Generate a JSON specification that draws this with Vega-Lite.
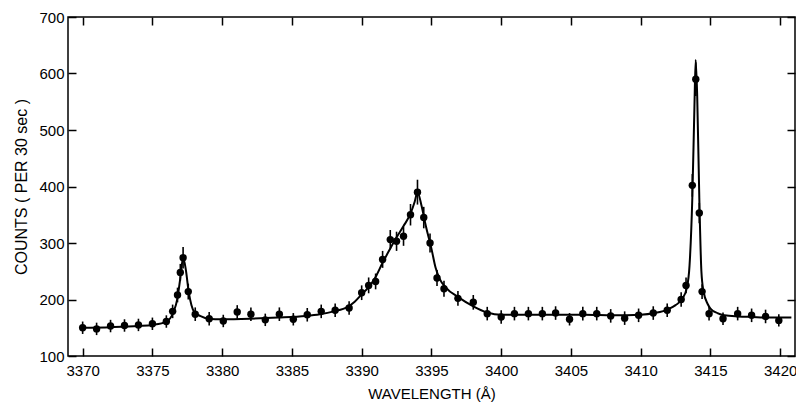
{
  "$schema": "https://vega.github.io/schema/vega-lite/v6.json",
  "width": 727,
  "height": 339,
  "autosize": {"type": "none"},
  "padding": {"left": 68, "top": 17, "right": 1, "bottom": 47},
  "background": "white",
  "config": {
    "view": {"stroke": "black", "strokeWidth": 1.5},
    "axis": {
      "domain": false,
      "grid": false,
      "tickColor": "black",
      "tickWidth": 1.5,
      "tickSize": -8,
      "labelColor": "black",
      "labelFont": "Liberation Sans",
      "labelFontSize": 15,
      "titleFont": "Liberation Sans",
      "titleFontSize": 15,
      "titleFontWeight": "normal",
      "titleColor": "black"
    }
  },
  "datasets": {
    "pts": [
      {"w": 3370, "c": 150, "e": 11},
      {"w": 3371, "c": 148, "e": 11},
      {"w": 3372, "c": 153, "e": 11},
      {"w": 3373, "c": 154, "e": 11},
      {"w": 3374, "c": 155, "e": 11},
      {"w": 3375, "c": 157, "e": 11},
      {"w": 3376, "c": 161, "e": 11},
      {"w": 3376.45, "c": 179, "e": 12},
      {"w": 3376.8, "c": 208, "e": 13},
      {"w": 3377.0, "c": 248, "e": 15},
      {"w": 3377.2, "c": 274, "e": 19},
      {"w": 3377.57, "c": 214, "e": 14},
      {"w": 3378.07, "c": 174, "e": 12},
      {"w": 3379.07, "c": 166, "e": 12},
      {"w": 3380.08, "c": 162, "e": 11},
      {"w": 3381.08, "c": 178, "e": 12},
      {"w": 3382.06, "c": 174, "e": 12},
      {"w": 3383.09, "c": 164, "e": 11},
      {"w": 3384.1, "c": 174, "e": 12},
      {"w": 3385.1, "c": 165, "e": 11},
      {"w": 3386.1, "c": 173, "e": 12},
      {"w": 3387.1, "c": 179, "e": 12},
      {"w": 3388.1, "c": 181, "e": 12},
      {"w": 3389.1, "c": 185, "e": 12},
      {"w": 3390.0, "c": 212, "e": 13},
      {"w": 3390.5, "c": 225, "e": 14},
      {"w": 3391.0, "c": 232, "e": 14},
      {"w": 3391.5, "c": 271, "e": 15},
      {"w": 3392.05, "c": 306, "e": 17},
      {"w": 3392.5, "c": 303, "e": 17},
      {"w": 3393.0, "c": 312, "e": 17},
      {"w": 3393.5, "c": 350, "e": 19},
      {"w": 3394.0, "c": 390, "e": 22},
      {"w": 3394.45, "c": 345, "e": 19},
      {"w": 3394.9, "c": 300, "e": 17},
      {"w": 3395.4, "c": 238, "e": 14},
      {"w": 3395.9, "c": 219, "e": 14},
      {"w": 3396.9, "c": 202, "e": 13},
      {"w": 3398.0, "c": 195, "e": 13},
      {"w": 3399.0, "c": 175, "e": 12},
      {"w": 3400.0, "c": 169, "e": 12},
      {"w": 3400.95, "c": 175, "e": 12},
      {"w": 3401.95, "c": 175, "e": 12},
      {"w": 3402.95, "c": 175, "e": 12},
      {"w": 3403.9, "c": 176, "e": 12},
      {"w": 3404.9, "c": 165, "e": 11},
      {"w": 3405.85, "c": 175, "e": 12},
      {"w": 3406.85, "c": 175, "e": 12},
      {"w": 3407.85, "c": 171, "e": 12},
      {"w": 3408.85, "c": 167, "e": 12},
      {"w": 3409.85, "c": 172, "e": 12},
      {"w": 3410.9, "c": 176, "e": 12},
      {"w": 3411.9, "c": 181, "e": 12},
      {"w": 3412.9, "c": 200, "e": 13},
      {"w": 3413.25, "c": 225, "e": 14},
      {"w": 3413.7, "c": 402, "e": 20},
      {"w": 3413.95, "c": 590, "e": 30},
      {"w": 3414.2, "c": 353, "e": 18},
      {"w": 3414.4, "c": 214, "e": 13},
      {"w": 3414.9, "c": 175, "e": 12},
      {"w": 3415.9, "c": 166, "e": 11},
      {"w": 3416.95, "c": 175, "e": 12},
      {"w": 3417.95, "c": 172, "e": 12},
      {"w": 3418.95, "c": 170, "e": 12},
      {"w": 3419.9, "c": 163, "e": 11}
    ],
    "fit": [
      {"w": 3369.9, "c": 150},
      {"w": 3372, "c": 151},
      {"w": 3374, "c": 153},
      {"w": 3375, "c": 155},
      {"w": 3376, "c": 161},
      {"w": 3376.5, "c": 177},
      {"w": 3376.8, "c": 203},
      {"w": 3377.0, "c": 238},
      {"w": 3377.2, "c": 274},
      {"w": 3377.4, "c": 252},
      {"w": 3377.6, "c": 214},
      {"w": 3377.8, "c": 190},
      {"w": 3378.0, "c": 178},
      {"w": 3378.5, "c": 170},
      {"w": 3379, "c": 166},
      {"w": 3380, "c": 165},
      {"w": 3382, "c": 166},
      {"w": 3384, "c": 168},
      {"w": 3386, "c": 171},
      {"w": 3387, "c": 174},
      {"w": 3388, "c": 179},
      {"w": 3389, "c": 187},
      {"w": 3389.5, "c": 196},
      {"w": 3390, "c": 209},
      {"w": 3390.5, "c": 222},
      {"w": 3391, "c": 240},
      {"w": 3391.5, "c": 265},
      {"w": 3392, "c": 288},
      {"w": 3392.5, "c": 310},
      {"w": 3393, "c": 330},
      {"w": 3393.5, "c": 352},
      {"w": 3393.8, "c": 373},
      {"w": 3394.0, "c": 390},
      {"w": 3394.3, "c": 365},
      {"w": 3394.6, "c": 330},
      {"w": 3395.0, "c": 290},
      {"w": 3395.3, "c": 256},
      {"w": 3395.6, "c": 236},
      {"w": 3396, "c": 222},
      {"w": 3397, "c": 203},
      {"w": 3398, "c": 188},
      {"w": 3399, "c": 177},
      {"w": 3400, "c": 173},
      {"w": 3402, "c": 173},
      {"w": 3404, "c": 173},
      {"w": 3406, "c": 173},
      {"w": 3408, "c": 172},
      {"w": 3410, "c": 173},
      {"w": 3411, "c": 176},
      {"w": 3412, "c": 183},
      {"w": 3412.5, "c": 190},
      {"w": 3413, "c": 202},
      {"w": 3413.3, "c": 220},
      {"w": 3413.5, "c": 260},
      {"w": 3413.7, "c": 380},
      {"w": 3413.85, "c": 540},
      {"w": 3413.94, "c": 624},
      {"w": 3414.05, "c": 560},
      {"w": 3414.2, "c": 380},
      {"w": 3414.35, "c": 250},
      {"w": 3414.5, "c": 215},
      {"w": 3414.8, "c": 192},
      {"w": 3415, "c": 184},
      {"w": 3415.5, "c": 176},
      {"w": 3416, "c": 172},
      {"w": 3417, "c": 170},
      {"w": 3418, "c": 169},
      {"w": 3419, "c": 168},
      {"w": 3420, "c": 168},
      {"w": 3420.8, "c": 168}
    ]
  },
  "layer": [
    {
      "data": {"name": "fit"},
      "mark": {"type": "line", "color": "black", "strokeWidth": 2, "interpolate": "monotone"},
      "encoding": {
        "x": {
          "field": "w", "type": "quantitative",
          "scale": {"domain": [3368.95, 3421.06], "nice": false, "zero": false},
          "axis": {"orient": "bottom", "values": [3370, 3375, 3380, 3385, 3390, 3395, 3400, 3405, 3410, 3415, 3420], "format": "d", "labelPadding": 15, "title": "WAVELENGTH (Å)", "titlePadding": 8, "labelFlush": false}
        },
        "y": {
          "field": "c", "type": "quantitative",
          "scale": {"domain": [100, 700], "nice": false, "zero": false},
          "axis": {"orient": "left", "values": [100, 200, 300, 400, 500, 600, 700], "labelPadding": 12, "title": "COUNTS ( PER 30 sec )", "titleFontSize": 16, "titlePadding": 9, "labelFlush": false}
        }
      }
    },
    {
      "data": {"name": "pts"},
      "mark": {"type": "errorbar", "color": "black", "thickness": 1.6},
      "encoding": {
        "x": {"field": "w", "type": "quantitative", "axis": null},
        "y": {"field": "c", "type": "quantitative", "axis": null},
        "yError": {"field": "e"}
      }
    },
    {
      "data": {"name": "pts"},
      "mark": {"type": "circle", "color": "black", "size": 55, "opacity": 1},
      "encoding": {
        "x": {
          "field": "w", "type": "quantitative",
          "axis": {"orient": "top", "values": [3370, 3375, 3380, 3385, 3390, 3395, 3400, 3405, 3410, 3415, 3420], "labels": false, "title": null}
        },
        "y": {
          "field": "c", "type": "quantitative",
          "axis": {"orient": "right", "values": [100, 200, 300, 400, 500, 600, 700], "labels": false, "title": null}
        }
      }
    }
  ]
}
